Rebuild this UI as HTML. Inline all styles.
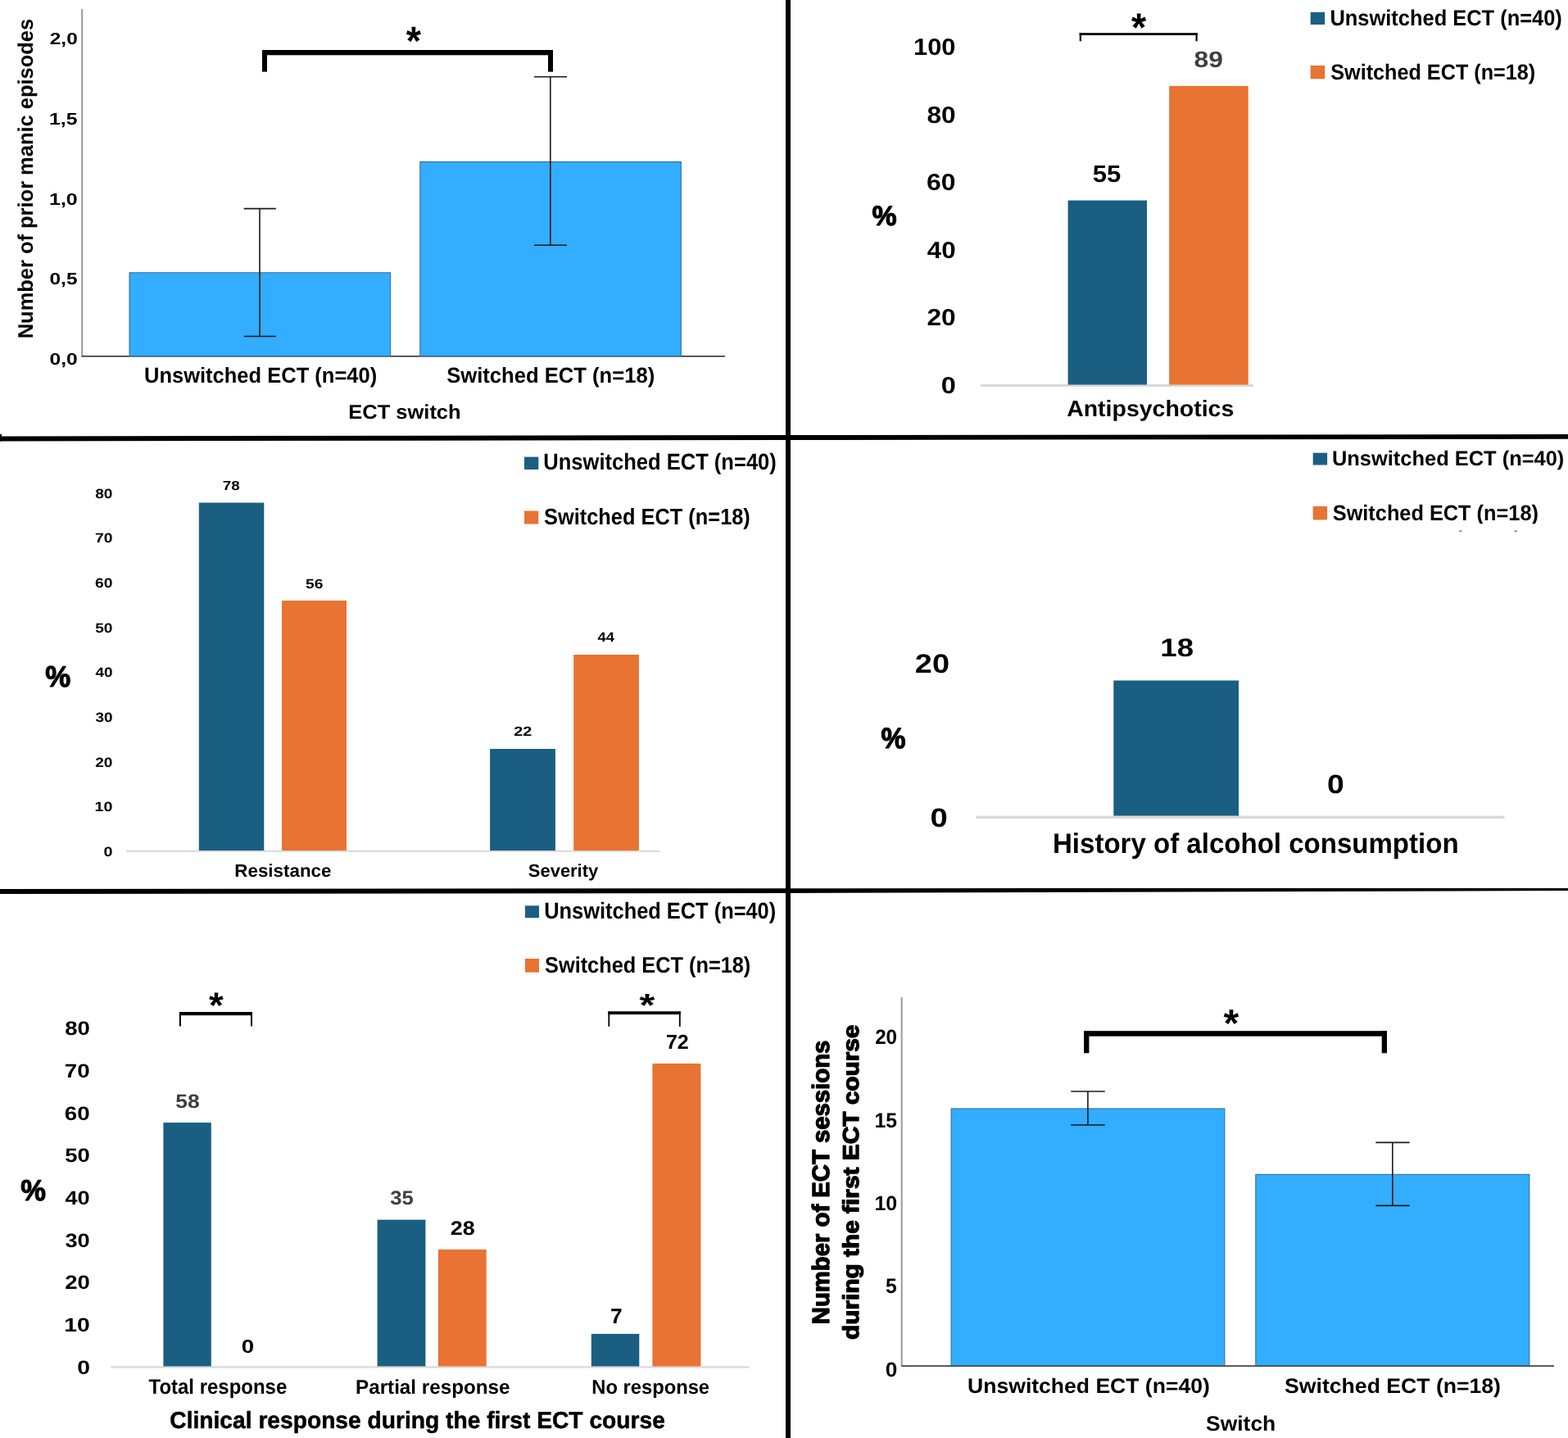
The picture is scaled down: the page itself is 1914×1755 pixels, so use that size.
<!DOCTYPE html>
<html><head><meta charset="utf-8"><title>ECT switch figures</title>
<style>html,body{margin:0;padding:0;background:#fff;width:1914px;height:1755px;overflow:hidden}svg{display:block}text{text-rendering:geometricPrecision}</style></head>
<body>
<svg width="1914" height="1755" viewBox="0 0 1914 1755" font-family='"Liberation Sans", Arial, sans-serif'>
<rect width="1914" height="1755" fill="#fff"/>
<polygon points="0,532.5 960,531 1914,530 1914,535.8 960,537 0,538.5" fill="#000"/>
<polygon points="0,1085 960,1084.2 1914,1083.9 1914,1087 960,1090 0,1091" fill="#000"/>
<rect x="0.00" y="529.80" width="2.00" height="8.70" fill="#000"/>
<rect x="959.00" y="0.00" width="6.00" height="1755.00" fill="#000"/>
<rect x="99.20" y="11.00" width="2.00" height="425.00" fill="#9a9a9a"/>
<rect x="100.00" y="434.00" width="785.00" height="1.60" fill="#333"/>
<rect x="158.00" y="332.80" width="318.70" height="101.70" fill="#33adff" stroke="#2a6a96" stroke-width="1"/>
<rect x="512.80" y="197.50" width="318.50" height="237.00" fill="#33adff" stroke="#2a6a96" stroke-width="1"/>
<rect x="1197.00" y="469.00" width="333.00" height="3.00" fill="#d9d9d9"/>
<rect x="1303.60" y="244.60" width="96.40" height="224.90" fill="#1a5f82"/>
<rect x="1427.20" y="104.90" width="96.50" height="364.60" fill="#e87332"/>
<rect x="1599.70" y="14.80" width="17.50" height="15.20" fill="#1a5f82"/>
<rect x="1599.70" y="80.00" width="17.50" height="16.30" fill="#e87332"/>
<rect x="154.20" y="1037.80" width="651.80" height="2.00" fill="#d9d9d9"/>
<rect x="242.80" y="613.50" width="79.50" height="424.50" fill="#1a5f82"/>
<rect x="344.00" y="733.00" width="79.00" height="305.00" fill="#e87332"/>
<rect x="598.10" y="914.00" width="79.80" height="124.00" fill="#1a5f82"/>
<rect x="700.20" y="799.00" width="79.70" height="239.00" fill="#e87332"/>
<rect x="640.00" y="557.60" width="17.30" height="15.40" fill="#1a5f82"/>
<rect x="640.00" y="623.50" width="17.30" height="16.00" fill="#e87332"/>
<rect x="1191.40" y="995.60" width="645.00" height="3.60" fill="#d9d9d9"/>
<rect x="1359.30" y="830.50" width="152.70" height="165.10" fill="#1a5f82"/>
<rect x="1602.70" y="552.70" width="17.40" height="14.80" fill="#1a5f82"/>
<rect x="1602.70" y="617.80" width="17.40" height="16.60" fill="#e87332"/>
<rect x="135.40" y="1667.30" width="779.60" height="2.30" fill="#d9d9d9"/>
<rect x="199.40" y="1370.10" width="58.40" height="297.40" fill="#1a5f82"/>
<rect x="460.60" y="1488.60" width="58.80" height="178.90" fill="#1a5f82"/>
<rect x="534.90" y="1524.90" width="58.80" height="142.60" fill="#e87332"/>
<rect x="721.80" y="1627.90" width="58.50" height="39.60" fill="#1a5f82"/>
<rect x="796.40" y="1298.00" width="59.00" height="369.50" fill="#e87332"/>
<rect x="640.90" y="1105.30" width="17.10" height="14.90" fill="#1a5f82"/>
<rect x="640.90" y="1170.00" width="17.10" height="16.70" fill="#e87332"/>
<rect x="1099.70" y="1217.00" width="2.00" height="451.00" fill="#9a9a9a"/>
<rect x="1100.70" y="1666.30" width="796.30" height="1.60" fill="#333"/>
<rect x="1161.10" y="1353.00" width="333.80" height="313.50" fill="#33adff" stroke="#2a6a96" stroke-width="1"/>
<rect x="1532.80" y="1433.30" width="334.10" height="233.20" fill="#33adff" stroke="#2a6a96" stroke-width="1"/>
<path d="M317.00 254.60V410.50M297.70 254.60H336.80M297.70 410.50H336.80" stroke="#1a1a1a" stroke-width="1.6" fill="none"/>
<path d="M671.80 93.75V299.30M652.00 93.75H692.00M652.00 299.30H692.00" stroke="#1a1a1a" stroke-width="1.6" fill="none"/>
<path d="M1327.90 1332.00V1373.00M1307.30 1332.00H1348.70M1307.30 1373.00H1348.70" stroke="#1a1a1a" stroke-width="1.6" fill="none"/>
<path d="M1699.80 1394.40V1471.40M1679.30 1394.40H1720.60M1679.30 1471.40H1720.60" stroke="#1a1a1a" stroke-width="1.6" fill="none"/>
<rect x="320.00" y="61.00" width="355.00" height="6.30" fill="#000"/>
<rect x="320.00" y="61.00" width="6.00" height="26.60" fill="#000"/>
<rect x="669.00" y="61.00" width="6.00" height="26.60" fill="#000"/>
<rect x="1317.70" y="40.20" width="144.00" height="2.80" fill="#000"/>
<rect x="1317.70" y="40.20" width="2.20" height="10.10" fill="#000"/>
<rect x="1459.50" y="40.20" width="2.20" height="10.10" fill="#000"/>
<rect x="218.90" y="1235.00" width="89.10" height="4.20" fill="#000"/>
<rect x="218.90" y="1235.00" width="2.00" height="17.50" fill="#000"/>
<rect x="306.00" y="1235.00" width="2.00" height="17.50" fill="#000"/>
<rect x="742.40" y="1234.30" width="88.30" height="3.80" fill="#000"/>
<rect x="742.40" y="1234.30" width="1.80" height="18.50" fill="#000"/>
<rect x="828.90" y="1234.30" width="1.80" height="18.50" fill="#000"/>
<rect x="1323.10" y="1258.20" width="369.90" height="6.50" fill="#000"/>
<rect x="1323.10" y="1258.20" width="6.30" height="27.10" fill="#000"/>
<rect x="1686.70" y="1258.20" width="6.30" height="27.10" fill="#000"/>

<text x="495.70" y="66.91" font-size="49.73" font-weight="bold" fill="#000" textLength="18.16" lengthAdjust="spacingAndGlyphs">*</text>
<text x="60.77" y="54.36" font-size="20.24" font-weight="bold" fill="#000" textLength="34.02" lengthAdjust="spacingAndGlyphs">2,0</text>
<text x="60.01" y="152.03" font-size="20.48" font-weight="bold" fill="#000" textLength="34.54" lengthAdjust="spacingAndGlyphs">1,5</text>
<text x="60.00" y="249.76" font-size="20.24" font-weight="bold" fill="#000" textLength="34.81" lengthAdjust="spacingAndGlyphs">1,0</text>
<text x="60.52" y="347.46" font-size="20.24" font-weight="bold" fill="#000" textLength="34.02" lengthAdjust="spacingAndGlyphs">0,5</text>
<text x="60.51" y="445.16" font-size="20.24" font-weight="bold" fill="#000" textLength="34.28" lengthAdjust="spacingAndGlyphs">0,0</text>
<text x="175.97" y="467.00" font-size="26.38" font-weight="bold" fill="#000" textLength="284.22" lengthAdjust="spacingAndGlyphs">Unswitched ECT (n=40)</text>
<text x="545.23" y="467.00" font-size="26.38" font-weight="bold" fill="#000" textLength="254.01" lengthAdjust="spacingAndGlyphs">Switched ECT (n=18)</text>
<text x="425.32" y="510.80" font-size="24.35" font-weight="bold" fill="#000" textLength="137.30" lengthAdjust="spacingAndGlyphs">ECT switch</text>
<text transform="rotate(-90)" x="-413.28" y="40.00" font-size="25.80" font-weight="bold" fill="#000" textLength="390.37" lengthAdjust="spacingAndGlyphs">Number of prior manic episodes</text>
<text x="1115.05" y="67.21" font-size="28.73" font-weight="bold" fill="#000" textLength="51.44" lengthAdjust="spacingAndGlyphs">100</text>
<text x="1131.45" y="149.69" font-size="28.73" font-weight="bold" fill="#000" textLength="35.19" lengthAdjust="spacingAndGlyphs">80</text>
<text x="1131.12" y="232.17" font-size="28.73" font-weight="bold" fill="#000" textLength="35.53" lengthAdjust="spacingAndGlyphs">60</text>
<text x="1131.77" y="314.65" font-size="28.73" font-weight="bold" fill="#000" textLength="34.85" lengthAdjust="spacingAndGlyphs">40</text>
<text x="1131.45" y="397.13" font-size="28.73" font-weight="bold" fill="#000" textLength="35.19" lengthAdjust="spacingAndGlyphs">20</text>
<text x="1148.70" y="479.61" font-size="28.73" font-weight="bold" fill="#000" textLength="18.11" lengthAdjust="spacingAndGlyphs">0</text>
<text x="1064.58" y="275.46" font-size="34.00" font-weight="bold" fill="#000" textLength="30.10" lengthAdjust="spacingAndGlyphs" stroke="#000" stroke-width="1.2" stroke-linejoin="round">%</text>
<text x="1333.87" y="221.71" font-size="29.14" font-weight="bold" fill="#000" textLength="34.54" lengthAdjust="spacingAndGlyphs">55</text>
<text x="1457.55" y="81.72" font-size="27.75" font-weight="bold" fill="#404040" textLength="35.40" lengthAdjust="spacingAndGlyphs">89</text>
<text x="1381.00" y="50.37" font-size="48.65" font-weight="bold" fill="#000" textLength="18.16" lengthAdjust="spacingAndGlyphs">*</text>
<text x="1302.15" y="507.60" font-size="27.54" font-weight="bold" fill="#000" textLength="204.14" lengthAdjust="spacingAndGlyphs">Antipsychotics</text>
<text x="1623.47" y="30.50" font-size="26.96" font-weight="bold" fill="#000" textLength="283.31" lengthAdjust="spacingAndGlyphs">Unswitched ECT (n=40)</text>
<text x="1624.24" y="96.90" font-size="26.67" font-weight="bold" fill="#000" textLength="249.98" lengthAdjust="spacingAndGlyphs">Switched ECT (n=18)</text>
<text x="116.23" y="607.64" font-size="16.34" font-weight="bold" fill="#000" textLength="21.28" lengthAdjust="spacingAndGlyphs">80</text>
<text x="116.03" y="662.30" font-size="16.34" font-weight="bold" fill="#000" textLength="21.49" lengthAdjust="spacingAndGlyphs">70</text>
<text x="116.03" y="716.96" font-size="16.34" font-weight="bold" fill="#000" textLength="21.49" lengthAdjust="spacingAndGlyphs">60</text>
<text x="116.23" y="771.62" font-size="16.34" font-weight="bold" fill="#000" textLength="21.28" lengthAdjust="spacingAndGlyphs">50</text>
<text x="116.42" y="826.28" font-size="16.34" font-weight="bold" fill="#000" textLength="21.08" lengthAdjust="spacingAndGlyphs">40</text>
<text x="116.42" y="880.94" font-size="16.34" font-weight="bold" fill="#000" textLength="21.08" lengthAdjust="spacingAndGlyphs">30</text>
<text x="116.23" y="935.60" font-size="16.34" font-weight="bold" fill="#000" textLength="21.28" lengthAdjust="spacingAndGlyphs">20</text>
<text x="115.62" y="990.26" font-size="16.34" font-weight="bold" fill="#000" textLength="21.92" lengthAdjust="spacingAndGlyphs">10</text>
<text x="126.61" y="1044.92" font-size="16.34" font-weight="bold" fill="#000" textLength="11.01" lengthAdjust="spacingAndGlyphs">0</text>
<text x="55.26" y="838.44" font-size="36.00" font-weight="bold" fill="#000" textLength="30.96" lengthAdjust="spacingAndGlyphs" stroke="#000" stroke-width="1.2" stroke-linejoin="round">%</text>
<text x="271.85" y="598.04" font-size="15.92" font-weight="bold" fill="#000" textLength="20.96" lengthAdjust="spacingAndGlyphs">78</text>
<text x="373.12" y="717.64" font-size="16.20" font-weight="bold" fill="#000" textLength="21.39" lengthAdjust="spacingAndGlyphs">56</text>
<text x="627.31" y="897.80" font-size="16.14" font-weight="bold" fill="#000" textLength="22.03" lengthAdjust="spacingAndGlyphs">22</text>
<text x="729.63" y="782.80" font-size="16.52" font-weight="bold" fill="#000" textLength="20.41" lengthAdjust="spacingAndGlyphs">44</text>
<text x="286.33" y="1069.60" font-size="21.88" font-weight="bold" fill="#000" textLength="118.15" lengthAdjust="spacingAndGlyphs">Resistance</text>
<text x="644.84" y="1069.60" font-size="21.88" font-weight="bold" fill="#000" textLength="85.42" lengthAdjust="spacingAndGlyphs">Severity</text>
<text x="663.27" y="573.10" font-size="27.97" font-weight="bold" fill="#000" textLength="284.53" lengthAdjust="spacingAndGlyphs">Unswitched ECT (n=40)</text>
<text x="664.04" y="639.80" font-size="27.68" font-weight="bold" fill="#000" textLength="251.80" lengthAdjust="spacingAndGlyphs">Switched ECT (n=18)</text>
<text x="1116.86" y="821.17" font-size="32.54" font-weight="bold" fill="#000" textLength="42.14" lengthAdjust="spacingAndGlyphs">20</text>
<text x="1135.47" y="1008.68" font-size="32.39" font-weight="bold" fill="#000" textLength="21.30" lengthAdjust="spacingAndGlyphs">0</text>
<text x="1075.59" y="913.05" font-size="35.43" font-weight="bold" fill="#000" textLength="30.00" lengthAdjust="spacingAndGlyphs" stroke="#000" stroke-width="1.2" stroke-linejoin="round">%</text>
<text x="1416.31" y="800.79" font-size="31.27" font-weight="bold" fill="#000" textLength="40.68" lengthAdjust="spacingAndGlyphs">18</text>
<text x="1620.01" y="968.18" font-size="32.25" font-weight="bold" fill="#000" textLength="20.71" lengthAdjust="spacingAndGlyphs">0</text>
<text x="1284.99" y="1040.50" font-size="34.35" font-weight="bold" fill="#000" textLength="495.62" lengthAdjust="spacingAndGlyphs">History of alcohol consumption</text>
<text x="1625.97" y="567.50" font-size="25.36" font-weight="bold" fill="#000" textLength="283.31" lengthAdjust="spacingAndGlyphs">Unswitched ECT (n=40)</text>
<text x="1626.74" y="634.70" font-size="26.52" font-weight="bold" fill="#000" textLength="251.19" lengthAdjust="spacingAndGlyphs">Switched ECT (n=18)</text>
<text x="79.17" y="1263.36" font-size="23.66" font-weight="bold" fill="#000" textLength="30.59" lengthAdjust="spacingAndGlyphs">80</text>
<text x="78.89" y="1315.01" font-size="23.66" font-weight="bold" fill="#000" textLength="30.89" lengthAdjust="spacingAndGlyphs">70</text>
<text x="78.89" y="1366.66" font-size="23.66" font-weight="bold" fill="#000" textLength="30.89" lengthAdjust="spacingAndGlyphs">60</text>
<text x="79.17" y="1418.31" font-size="23.66" font-weight="bold" fill="#000" textLength="30.59" lengthAdjust="spacingAndGlyphs">50</text>
<text x="79.46" y="1469.96" font-size="23.66" font-weight="bold" fill="#000" textLength="30.30" lengthAdjust="spacingAndGlyphs">40</text>
<text x="79.46" y="1521.61" font-size="23.66" font-weight="bold" fill="#000" textLength="30.30" lengthAdjust="spacingAndGlyphs">30</text>
<text x="79.17" y="1573.26" font-size="23.66" font-weight="bold" fill="#000" textLength="30.59" lengthAdjust="spacingAndGlyphs">20</text>
<text x="78.30" y="1624.91" font-size="23.66" font-weight="bold" fill="#000" textLength="31.50" lengthAdjust="spacingAndGlyphs">10</text>
<text x="94.17" y="1676.56" font-size="23.66" font-weight="bold" fill="#000" textLength="15.74" lengthAdjust="spacingAndGlyphs">0</text>
<text x="25.36" y="1464.74" font-size="35.86" font-weight="bold" fill="#000" textLength="30.75" lengthAdjust="spacingAndGlyphs" stroke="#000" stroke-width="1.2" stroke-linejoin="round">%</text>
<text x="214.21" y="1351.76" font-size="23.52" font-weight="bold" fill="#404040" textLength="29.45" lengthAdjust="spacingAndGlyphs">58</text>
<text x="294.89" y="1650.57" font-size="22.96" font-weight="bold" fill="#000" textLength="15.39" lengthAdjust="spacingAndGlyphs">0</text>
<text x="476.19" y="1470.26" font-size="23.94" font-weight="bold" fill="#404040" textLength="28.54" lengthAdjust="spacingAndGlyphs">35</text>
<text x="549.89" y="1507.36" font-size="23.94" font-weight="bold" fill="#000" textLength="29.98" lengthAdjust="spacingAndGlyphs">28</text>
<text x="744.94" y="1614.76" font-size="25.74" font-weight="bold" fill="#000" textLength="14.68" lengthAdjust="spacingAndGlyphs">7</text>
<text x="812.90" y="1280.30" font-size="24.71" font-weight="bold" fill="#000" textLength="27.86" lengthAdjust="spacingAndGlyphs">72</text>
<text x="254.90" y="1242.18" font-size="44.32" font-weight="bold" fill="#000" textLength="17.76" lengthAdjust="spacingAndGlyphs">*</text>
<text x="780.50" y="1240.04" font-size="39.19" font-weight="bold" fill="#000" textLength="18.86" lengthAdjust="spacingAndGlyphs">*</text>
<text x="181.56" y="1701.00" font-size="25.51" font-weight="bold" fill="#000" textLength="168.66" lengthAdjust="spacingAndGlyphs">Total response</text>
<text x="434.00" y="1700.80" font-size="24.35" font-weight="bold" fill="#000" textLength="188.55" lengthAdjust="spacingAndGlyphs">Partial response</text>
<text x="722.24" y="1700.80" font-size="24.35" font-weight="bold" fill="#000" textLength="143.85" lengthAdjust="spacingAndGlyphs">No response</text>
<text x="207.32" y="1742.75" font-size="28.84" font-weight="bold" fill="#000" textLength="604.52" lengthAdjust="spacingAndGlyphs" stroke="#000" stroke-width="0.5" stroke-linejoin="round">Clinical response during the first ECT course</text>
<text x="664.28" y="1120.80" font-size="27.97" font-weight="bold" fill="#000" textLength="282.91" lengthAdjust="spacingAndGlyphs">Unswitched ECT (n=40)</text>
<text x="665.04" y="1186.90" font-size="27.39" font-weight="bold" fill="#000" textLength="251.29" lengthAdjust="spacingAndGlyphs">Switched ECT (n=18)</text>
<text x="1493.40" y="1265.42" font-size="47.57" font-weight="bold" fill="#000" textLength="18.76" lengthAdjust="spacingAndGlyphs">*</text>
<text x="1068.17" y="1274.40" font-size="24.93" font-weight="bold" fill="#000" textLength="26.95" lengthAdjust="spacingAndGlyphs">20</text>
<text x="1067.42" y="1375.75" font-size="25.29" font-weight="bold" fill="#000" textLength="27.48" lengthAdjust="spacingAndGlyphs">15</text>
<text x="1067.40" y="1477.10" font-size="24.93" font-weight="bold" fill="#000" textLength="27.75" lengthAdjust="spacingAndGlyphs">10</text>
<text x="1081.06" y="1578.45" font-size="25.29" font-weight="bold" fill="#000" textLength="13.68" lengthAdjust="spacingAndGlyphs">5</text>
<text x="1080.75" y="1679.80" font-size="24.93" font-weight="bold" fill="#000" textLength="14.56" lengthAdjust="spacingAndGlyphs">0</text>
<text x="1181.11" y="1699.50" font-size="25.36" font-weight="bold" fill="#000" textLength="295.64" lengthAdjust="spacingAndGlyphs">Unswitched ECT (n=40)</text>
<text x="1568.10" y="1699.50" font-size="25.36" font-weight="bold" fill="#000" textLength="263.89" lengthAdjust="spacingAndGlyphs">Switched ECT (n=18)</text>
<text x="1472.11" y="1746.00" font-size="25.51" font-weight="bold" fill="#000" textLength="85.15" lengthAdjust="spacingAndGlyphs">Switch</text>
<text transform="rotate(-90)" x="-1616.20" y="1011.85" font-size="29.28" font-weight="bold" fill="#000" textLength="346.49" lengthAdjust="spacingAndGlyphs" stroke="#000" stroke-width="1.3" stroke-linejoin="round">Number of ECT sessions</text>
<text transform="rotate(-90)" x="-1634.94" y="1048.31" font-size="27.34" font-weight="bold" fill="#000" textLength="384.39" lengthAdjust="spacingAndGlyphs" stroke="#000" stroke-width="1.3" stroke-linejoin="round">during the first ECT course</text>
<rect x="1600" y="639.2" width="300" height="6" fill="#fff"/><rect x="1781" y="647.6" width="3.5" height="1.3" fill="#666"/><rect x="1848.5" y="647.6" width="3.5" height="1.3" fill="#666"/>
</svg>
</body></html>
